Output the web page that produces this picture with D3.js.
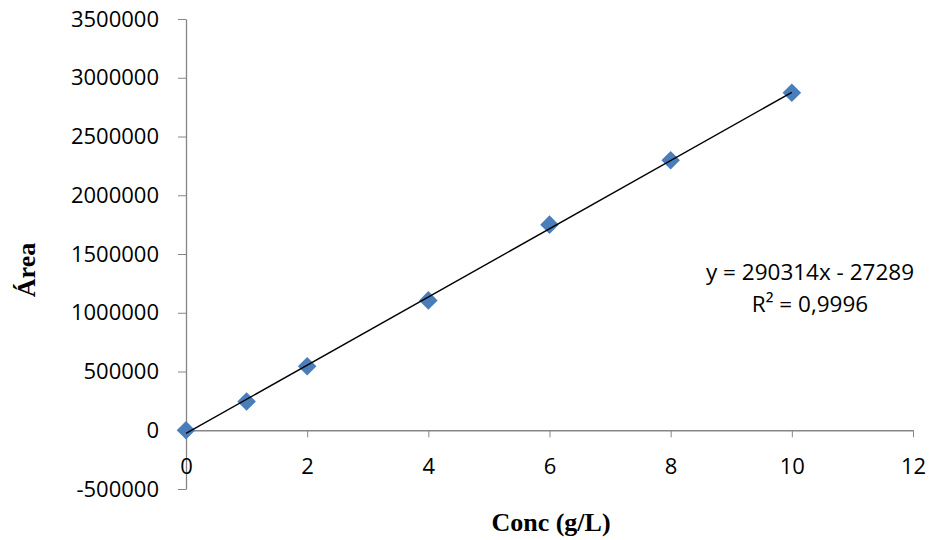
<!DOCTYPE html>
<html>
<head>
<meta charset="utf-8">
<script src="https://cdn.jsdelivr.net/npm/d3@7"></script>
<style>
  body { margin: 0; background: #fff; }
  .axis path, .axis line { stroke: #868686; }
  .axis text { font-family: "Open Sans", sans-serif; font-size: 22px; fill: #000; }
  .title { font-family: "Liberation Serif", serif; font-weight: bold; font-size: 26px; }
  .eq { font-family: "Open Sans", sans-serif; font-size: 22.5px; }
</style>
</head>
<body>
<div id="chart"></div>
<script>
var conc = [0, 1, 2, 4, 6, 8, 10]
var area = [0, 245000, 545000, 1105000, 1750000, 2298000, 2872000]
var xTicks = [0, 2, 4, 6, 8, 10, 12]
var yTicks = [-500000, 0, 500000, 1000000, 1500000, 2000000, 2500000, 3000000, 3500000]
var slope = 290314, intercept = -27289
var eqLines = ['y = 290314x - 27289', 'R² = 0,9996']

var width = 931, height = 540

var x = d3.scaleLinear().domain([0, 12]).range([186, 913])
var y = d3.scaleLinear().domain([-500000, 3500000]).range([489, 19])

var svg = d3.select('#chart').append('svg')
  .attr('width', width)
  .attr('height', height)

/* y axis */
svg.append('g')
  .attr('class', 'axis')
  .attr('transform', 'translate(' + x(0) + ',0)')
  .call(d3.axisLeft(y).tickValues(yTicks).tickFormat(d => String(d))
    .tickSize(8).tickPadding(19).tickSizeOuter(0))

/* x axis at y = 0 */
svg.append('g')
  .attr('class', 'axis')
  .attr('transform', 'translate(0,' + y(0) + ')')
  .call(d3.axisBottom(x).tickValues(xTicks).tickFormat(d => String(d))
    .tickSize(7).tickPadding(21).tickSizeOuter(0))

svg.selectAll('.axis path').attr('stroke-width', 1.3)

/* markers */
svg.selectAll('.pt')
  .data(conc)
  .enter().append('path')
  .attr('class', 'pt')
  .attr('d', d3.symbol().type(d3.symbolDiamond2).size(220))
  .attr('transform', (d, i) => 'translate(' + x(d) + ',' + y(area[i]) + ')')
  .attr('fill', '#4a7ebb')

// linear trendline, drawn over the markers
svg.append('line')
  .attr('x1', x(0)).attr('y1', y(intercept))
  .attr('x2', x(10)).attr('y2', y(slope * 10 + intercept))
  .attr('stroke', '#000')
  .attr('stroke-width', 1.4)

svg.append('text')
  .attr('class', 'eq')
  .attr('text-anchor', 'middle')
  .selectAll('tspan')
  .data(eqLines)
  .enter().append('tspan')
  .attr('x', 810)
  .attr('y', (d, i) => 280 + i * 32)
  .text(d => d)

svg.append('text')
  .attr('class', 'title')
  .attr('text-anchor', 'middle')
  .attr('x', 551).attr('y', 531)
  .text('Conc (g/L)')

svg.append('text')
  .attr('class', 'title')
  .attr('text-anchor', 'middle')
  .attr('transform', 'translate(35,270) rotate(-90)')
  .text('Área')
</script>
</body>
</html>
